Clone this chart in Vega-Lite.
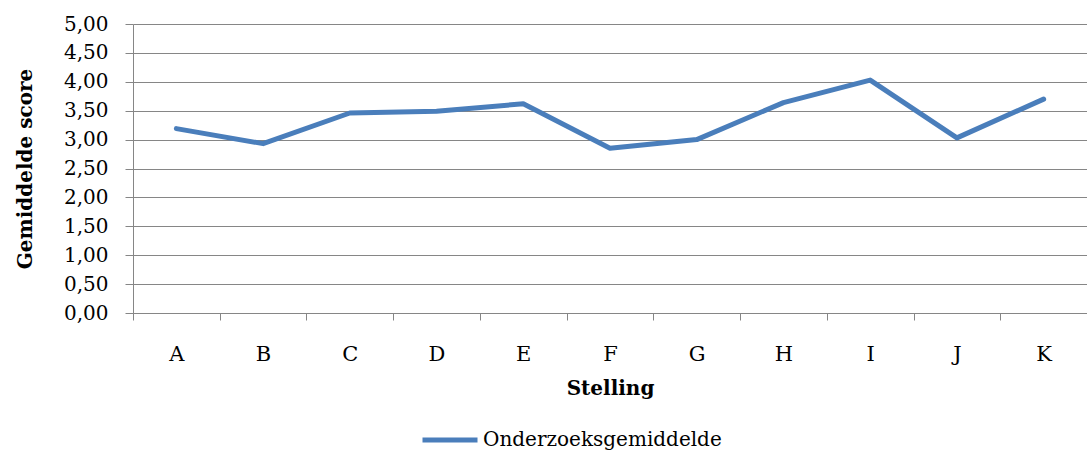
{
  "$schema": "https://vega.github.io/schema/vega-lite/v6.json",
  "width": 954,
  "height": 289,
  "autosize": "none",
  "padding": {"left": 133, "top": 24, "right": 0, "bottom": 137},
  "background": "white",
  "data": {
    "values": [
      {"stelling": "A", "score": 3.19, "reeks": "Onderzoeksgemiddelde"},
      {"stelling": "B", "score": 2.93, "reeks": "Onderzoeksgemiddelde"},
      {"stelling": "C", "score": 3.46, "reeks": "Onderzoeksgemiddelde"},
      {"stelling": "D", "score": 3.49, "reeks": "Onderzoeksgemiddelde"},
      {"stelling": "E", "score": 3.62, "reeks": "Onderzoeksgemiddelde"},
      {"stelling": "F", "score": 2.85, "reeks": "Onderzoeksgemiddelde"},
      {"stelling": "G", "score": 3.00, "reeks": "Onderzoeksgemiddelde"},
      {"stelling": "H", "score": 3.64, "reeks": "Onderzoeksgemiddelde"},
      {"stelling": "I", "score": 4.03, "reeks": "Onderzoeksgemiddelde"},
      {"stelling": "J", "score": 3.03, "reeks": "Onderzoeksgemiddelde"},
      {"stelling": "K", "score": 3.70, "reeks": "Onderzoeksgemiddelde"}
    ]
  },
  "config": {
    "view": {"stroke": null},
    "font": "DejaVu Serif",
    "axis": {
      "labelFont": "DejaVu Serif",
      "titleFont": "DejaVu Serif",
      "labelColor": "black",
      "titleColor": "black",
      "labelFontSize": 20,
      "titleFontSize": 20,
      "titleFontWeight": "bold",
      "domainColor": "#868686",
      "tickColor": "#868686",
      "gridColor": "#868686",
      "gridOpacity": 1,
      "domainWidth": 1,
      "tickWidth": 1,
      "gridWidth": 1
    }
  },
  "mark": {"type": "line", "strokeWidth": 5, "strokeCap": "round", "strokeJoin": "round"},
  "encoding": {
    "x": {
      "field": "stelling",
      "type": "nominal",
      "bandPosition": 0.5,
      "scale": {"type": "band", "paddingInner": 0, "paddingOuter": 0},
      "axis": {
        "title": "Stelling",
        "labelAngle": 0,
        "labelFontSize": 21,
        "tickBand": "extent",
        "tickSize": 7,
        "labelPadding": 23,
        "titlePadding": 14,
        "grid": false
      }
    },
    "y": {
      "field": "score",
      "type": "quantitative",
      "scale": {"domain": [0, 5], "nice": false, "zero": true},
      "axis": {
        "title": "Gemiddelde score",
        "values": [0, 0.5, 1, 1.5, 2, 2.5, 3, 3.5, 4, 4.5, 5],
        "labelExpr": "replace(format(datum.value, '.2f'), '.', ',')",
        "tickSize": 8,
        "labelPadding": 17,
        "titlePadding": 28,
        "grid": true,
        "labelBaseline": "middle"
      }
    },
    "color": {
      "field": "reeks",
      "type": "nominal",
      "scale": {"range": ["#4A7EBB"]},
      "legend": {
        "title": null,
        "orient": "none",
        "legendX": 287,
        "legendY": 386,
        "symbolType": "stroke",
        "symbolSize": 3025,
        "symbolStrokeWidth": 5,
        "labelFont": "DejaVu Serif",
        "labelFontSize": 20,
        "labelColor": "black",
        "labelOffset": 3,
        "labelLimit": 400
      }
    }
  }
}
